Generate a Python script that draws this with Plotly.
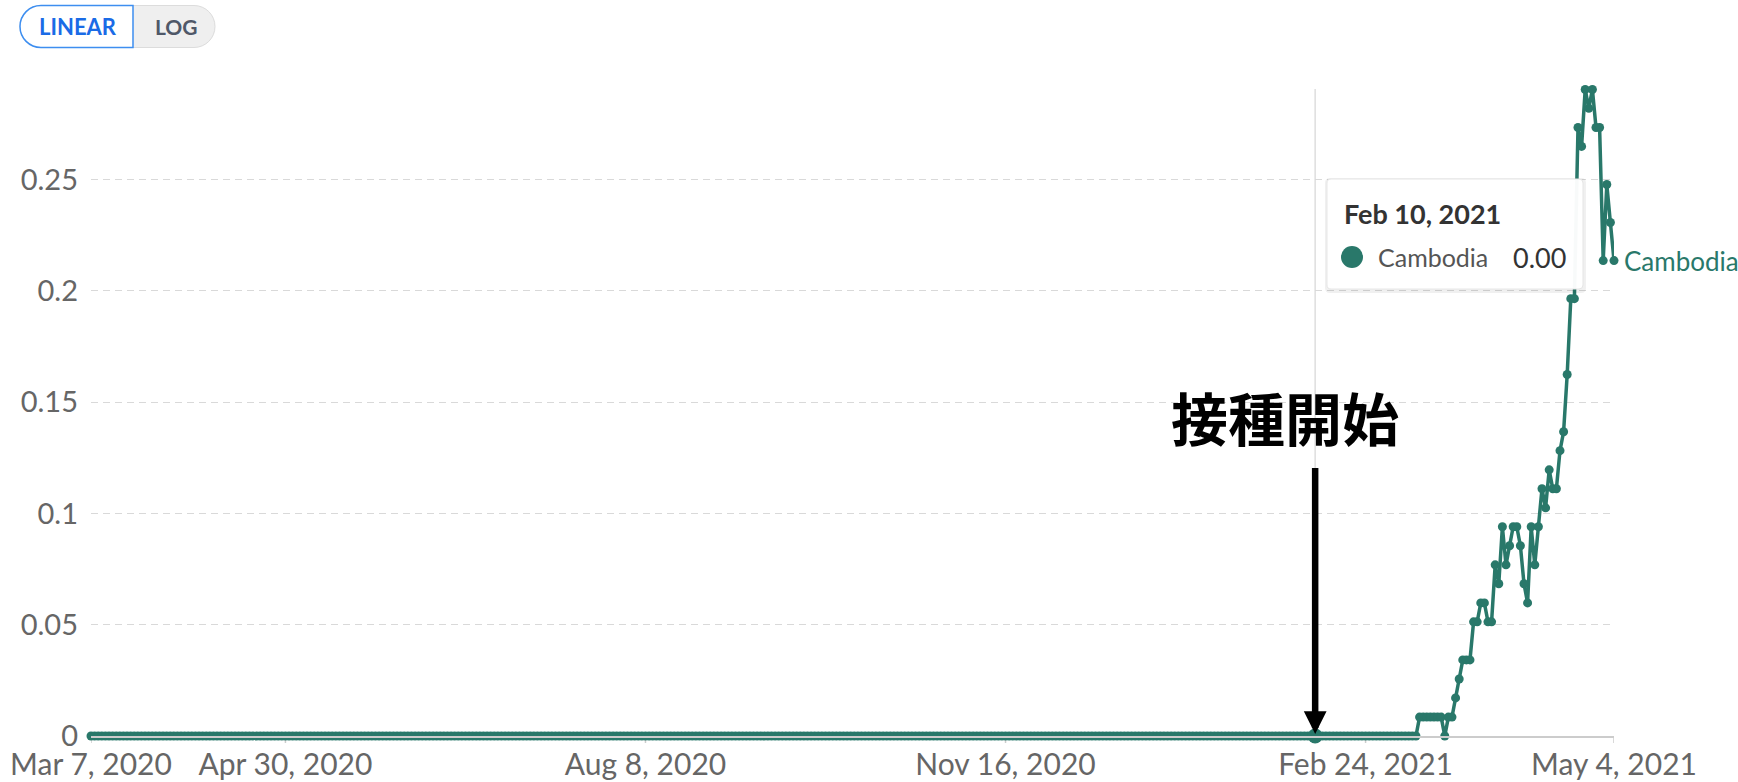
import plotly.graph_objects as go
import pandas as pd

# ---------------- data ----------------
START_DATE = "2020-03-07"
END_DATE = "2021-05-04"
COUNTRY = "Cambodia"
ZERO_DAYS = 369  # every day from Mar 7, 2020 up to Mar 10, 2021 reads 0
NONZERO_PART = [
    0.0085, 0.0085, 0.0085, 0.0085, 0.0085, 0.0085, 0.0085, 0.0, 0.0085, 0.0085,
    0.0171, 0.0256, 0.0342, 0.0342, 0.0342, 0.0513, 0.0513, 0.0598, 0.0598, 0.0513,
    0.0513, 0.0769, 0.0684, 0.0940, 0.0769, 0.0855, 0.0940, 0.0940, 0.0855, 0.0684,
    0.0598, 0.0940, 0.0769, 0.0940, 0.1111, 0.1025, 0.1196, 0.1111, 0.1111, 0.1282,
    0.1367, 0.1624, 0.1965, 0.1965, 0.2734, 0.2649, 0.2905, 0.2820, 0.2905, 0.2734,
    0.2734, 0.2136, 0.2478, 0.2307, 0.2136,
]
values = [0.0] * ZERO_DAYS + NONZERO_PART
dates = pd.date_range(START_DATE, END_DATE, freq="D")

X_TICK_DATES = ["2020-03-07", "2020-04-30", "2020-08-08", "2020-11-16", "2021-02-24", "2021-05-04"]
X_TICK_LABELS = ["Mar 7, 2020", "Apr 30, 2020", "Aug 8, 2020", "Nov 16, 2020", "Feb 24, 2021", "May 4, 2021"]
Y_TICKS = [0, 0.05, 0.1, 0.15, 0.2, 0.25]
Y_TICK_LABELS = ["0", "0.05", "0.1", "0.15", "0.2", "0.25"]
Y_MAX = 0.2907

HOVER_DATE = "2021-02-10"
HOVER_LABEL = "Feb 10, 2021"
ANNOTATION_TEXT = "接種開始"
SCALE_BUTTONS = ["LINEAR", "LOG"]

# ---------------- style ----------------
TEAL = "#29786a"
FONT = "Lato"
W, H = 1738, 782
L, R, T, B = 91, 124, 89, 46
PW, PH = W - L - R, H - T - B


def fx(px):
    return (px - L) / PW


def fy(py):
    return (H - B - py) / PH


def pt(px, py):
    return f"{fx(px):.6f},{fy(py):.6f}"


def pill_path(x0, x1, y0, y1, round_left=True, round_right=True):
    r = (y1 - y0) / 2
    k = 0.5523 * r
    yc = (y0 + y1) / 2
    p = f"M {pt(x0 + r if round_left else x0, y0)} "
    if round_right:
        p += f"L {pt(x1 - r, y0)} C {pt(x1 - r + k, y0)} {pt(x1, yc - k)} {pt(x1, yc)} "
        p += f"C {pt(x1, yc + k)} {pt(x1 - r + k, y1)} {pt(x1 - r, y1)} "
    else:
        p += f"L {pt(x1, y0)} L {pt(x1, y1)} "
    if round_left:
        p += f"L {pt(x0 + r, y1)} C {pt(x0 + r - k, y1)} {pt(x0, yc + k)} {pt(x0, yc)} "
        p += f"C {pt(x0, yc - k)} {pt(x0 + r - k, y0)} {pt(x0 + r, y0)} Z"
    else:
        p += f"L {pt(x0, y1)} Z"
    return p


def round_rect(x0, x1, y0, y1, r):
    return (f"M {pt(x0 + r, y0)} L {pt(x1 - r, y0)} Q {pt(x1, y0)} {pt(x1, y0 + r)} "
            f"L {pt(x1, y1 - r)} Q {pt(x1, y1)} {pt(x1 - r, y1)} L {pt(x0 + r, y1)} "
            f"Q {pt(x0, y1)} {pt(x0, y1 - r)} L {pt(x0, y0 + r)} Q {pt(x0, y0)} {pt(x0 + r, y0)} Z")


def text_at(px, py, text, size, color, xanchor="center", weight=None, family=FONT):
    f = dict(family=family, size=size, color=color)
    if weight:
        f["weight"] = weight
    return dict(xref="paper", yref="paper", x=fx(px), y=fy(py), text=text,
                xanchor=xanchor, yanchor="middle", showarrow=False, font=f)


hover_idx = list(dates).index(pd.Timestamp(HOVER_DATE))
hover_value = values[hover_idx]

fig = go.Figure()
fig.add_trace(go.Scatter(
    x=dates, y=values, mode="lines+markers",
    line=dict(color=TEAL, width=3.5),
    marker=dict(color=TEAL, size=9),
    cliponaxis=False, hoverinfo="skip", name=COUNTRY,
))
fig.add_trace(go.Scatter(
    x=[dates[hover_idx]], y=[hover_value], mode="markers",
    marker=dict(color=TEAL, size=15), cliponaxis=False, hoverinfo="skip",
))

shapes = []
# x-axis tick marks (drawn at the tick dates, below the axis line)
for d in X_TICK_DATES:
    shapes.append(dict(type="line", xref="x", yref="paper", x0=d, x1=d,
                       y0=0, y1=-7 / PH, line=dict(color="#cccccc", width=1.5), layer="below"))
# hover guide line
shapes.append(dict(type="line", xref="x", yref="paper", x0=HOVER_DATE, x1=HOVER_DATE,
                   y0=0, y1=1, line=dict(color="#dedede", width=1.5), layer="below"))
# scale toggle buttons
shapes.append(dict(type="path", xref="paper", yref="paper",
                   path=pill_path(20, 215, 5.5, 47.5), fillcolor="#efefef",
                   line=dict(color="#dcdcdc", width=1)))
shapes.append(dict(type="path", xref="paper", yref="paper",
                   path=pill_path(20, 133, 5.5, 47.5, round_right=False), fillcolor="#ffffff",
                   line=dict(color="#3d8ef0", width=1.5)))
# tooltip
shapes.append(dict(type="path", xref="paper", yref="paper", layer="above",
                   path=round_rect(1325, 1586, 178, 293, 5), fillcolor="rgba(0,0,0,0.06)",
                   line=dict(width=0)))
shapes.append(dict(type="path", xref="paper", yref="paper", layer="above",
                   path=round_rect(1327, 1583, 179, 289, 4), fillcolor="rgba(255,255,255,0.97)",
                   line=dict(color="#e6e6e6", width=1)))
shapes.append(dict(type="circle", xref="paper", yref="paper", layer="above",
                   x0=fx(1341), x1=fx(1363), y0=fy(268), y1=fy(246),
                   fillcolor=TEAL, line=dict(width=0)))

annotations = []
# button labels
annotations.append(text_at(78, 26.5, SCALE_BUTTONS[0], 22, "#1a6be6", weight=700))
annotations.append(text_at(176, 26.5, SCALE_BUTTONS[1], 21, "#4f5868", weight=700))
# tooltip texts
annotations.append(text_at(1342, 213, f"<b>{HOVER_LABEL}</b>", 27, "#333333", xanchor="left"))
annotations.append(text_at(1376, 257, COUNTRY, 25, "#555555", xanchor="left"))
annotations.append(text_at(1568, 257, f"{hover_value:.2f}", 27, "#333333", xanchor="right"))
# end-of-line label
annotations.append(dict(x=dates[-1], y=values[-1], xanchor="left", yanchor="middle", xshift=8,
                        text=COUNTRY, showarrow=False,
                        font=dict(family=FONT, size=26, color=TEAL)))
# vaccination start arrow + text
annotations.append(dict(x=HOVER_DATE, y=0, ax=0, ay=-270, text=" ", font=dict(size=1),
                        showarrow=True, arrowhead=2, arrowsize=0.7, arrowwidth=6.5,
                        arrowcolor="#000000", standoff=2))
annotations.append(text_at(1285, 416, f"<b>{ANNOTATION_TEXT}</b>", 57, "#000000",
                           family="Noto Sans CJK JP"))

fig.update_layout(
    width=W, height=H,
    margin=dict(l=L, r=R, t=T, b=B, pad=0, autoexpand=False),
    paper_bgcolor="white", plot_bgcolor="white",
    showlegend=False,
    shapes=shapes, annotations=annotations,
    font=dict(family=FONT),
    xaxis=dict(
        type="date", range=[dates[0], dates[-1]], automargin=False,
        tickvals=X_TICK_DATES, ticktext=X_TICK_LABELS,
        tickfont=dict(family=FONT, size=30, color="#666666"),
        showgrid=False, zeroline=False,
        showline=True, linecolor="#cccccc", linewidth=1.5,
        ticks="outside", ticklen=1, tickcolor="rgba(0,0,0,0)", tickwidth=1,
        ticklabelstandoff=0,
    ),
    yaxis=dict(
        range=[0, Y_MAX], tickvals=Y_TICKS, ticktext=Y_TICK_LABELS, automargin=False,
        tickfont=dict(family=FONT, size=29, color="#666666"),
        showgrid=True, gridcolor="#d9d9d9", gridwidth=1, griddash="7px,5px",
        zeroline=False, showline=False, ticks="", ticklabelstandoff=12,
    ),
)

fig.write_html("out.html", config={"displayModeBar": False},
               post_script="document.body.style.margin='0';")
